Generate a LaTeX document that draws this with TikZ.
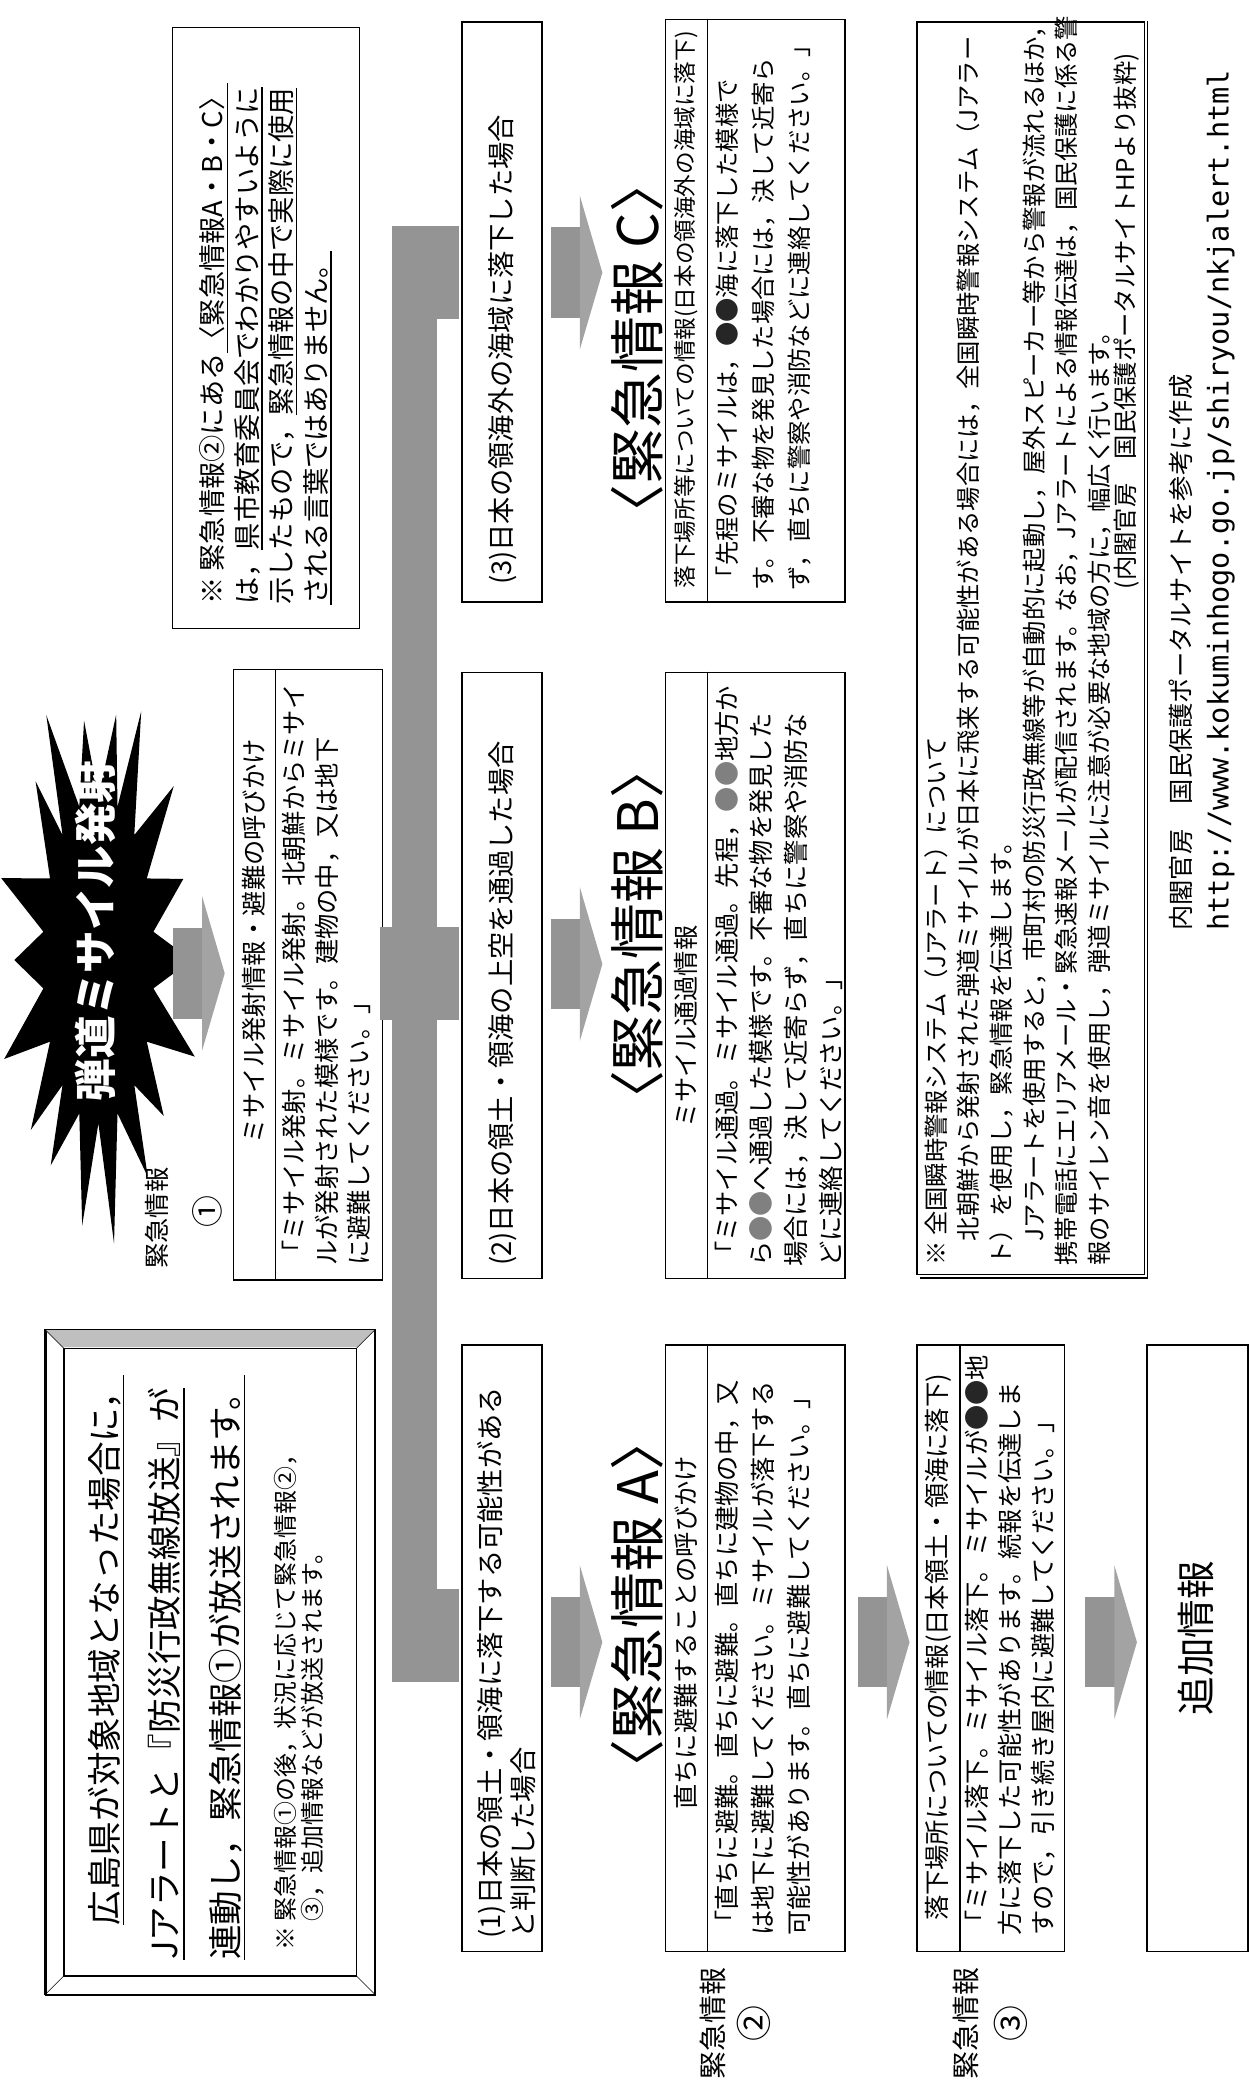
\documentclass[tikz,border=0pt]{standalone}
\usepackage{fontspec}
\setmainfont{Noto Sans CJK JP}
\newfontfamily\urlfnt{DejaVu Sans Mono}
\newcommand\ulx[1]{\leavevmode\setbox0\hbox{#1}\rlap{\rule[-0.2em]{\wd0}{1.1pt}}\box0}
\newcommand\gdot{\textcolor{black!50}{●}}
\newcommand\kdot{\textcolor{black!85}{●}}
\begin{document}
\begin{tikzpicture}[x=1pt,y=1pt,
  bx/.style={draw=black,line width=1.1pt,inner sep=0pt,anchor=north west},
  tb/.style={rotate=90,inner sep=0pt,align=left,anchor=north west},
  tc/.style={rotate=90,inner sep=0pt},
  grfill/.style={fill=black!42},
  pics/barrow/.style={code={
    \fill[black!42] (0,-34) rectangle (23,34);
    \fill[black!36] (22,-58) -- (39,0) -- (22,58) -- cycle;}}]
\useasboundingbox (0,0) rectangle (939,-1568);
\fill[white] (0,0) rectangle (939,-1568);

% ---------- note box (top left)
\node[bx,minimum width=141pt,minimum height=452pt] (nbox) at (129,-20) {};
\node[tb,font=\fontsize{20.5}{26}\selectfont] (nboxt) at (150,-455)
 {※ 緊急情報②にある\ulx{〈緊急情報A・B・C〉}\\は，\ulx{県市教育委員会でわかりやすいように}\\示したもので，\ulx{緊急情報の中で実際に使用}\\\ulx{される言葉ではありません。}};

% ---------- starburst
\fill[black] plot[samples at={0,...,35},variable=\k]
  ({74+(mod(\k,2)==0?(1+0.12*sin(\k*97)):0.6)*70*cos(\k*10)},{-722+(mod(\k,2)==0?(1+0.1*sin(\k*131)):0.62)*198*sin(\k*10)}) -- cycle;
\node[tc,text=white,font=\bfseries\fontsize{32}{32}\selectfont] (burst) at (72,-700) {弾道ミサイル発射};
\pic at (130,-732) {barrow};

% ---------- label 1
\node[tc,font=\fontsize{19}{19}\selectfont] (l1a) at (118,-916) {緊急情報};
\node[tc,font=\fontsize{24}{24}\selectfont] (l1b) at (156,-911) {①};

% ---------- box 1
\node[bx,minimum width=112pt,minimum height=459pt] (box1) at (175,-503) {};
\draw[line width=1pt] (207,-503) -- (207,-962);
\node[tc,font=\fontsize{19}{19}\selectfont] (box1h) at (191,-708) {ミサイル発射情報・避難の呼びかけ};
\node[tb,font=\fontsize{19}{24.5}\selectfont] (box1t) at (212,-952)
 {「ミサイル発射。ミサイル発射。北朝鮮からミサイ\\ルが発射された模様です。建物の中，又は地下\\に避難してください。」};

% ---------- big bevel box
\node[bx,minimum width=248pt,minimum height=500pt] (bigbox) at (34,-1000) {};
\fill[black!25] (34,-1000) -- (282,-1000) -- (269,-1013) -- (47,-1013) -- cycle;
\draw[line width=1.1pt] (34,-1000) rectangle (282,-1500);
\draw[line width=1.1pt] (48,-1014) rectangle (268,-1486);
\draw (34,-1000) -- (48,-1014) (282,-1000) -- (268,-1014) (34,-1500) -- (48,-1486) (282,-1500) -- (268,-1486);
\node[tb,font=\fontsize{26}{45.5}\selectfont] (bigt) at (66,-1474)
 {\hspace*{1em}\ulx{広島県が対象地域となった場合に，}\\\ulx{Jアラートと『防災行政無線放送』が}\\\ulx{連動し，緊急情報①が放送されます。}};
\node[tb,font=\fontsize{18}{20}\selectfont] (bign) at (206,-1467)
 {※ 緊急情報①の後，状況に応じて緊急情報②，\\\phantom{※ }③，追加情報などが放送されます。};

% ---------- gray distribution bar
\fill[grfill] (295,-170) rectangle (329,-1265);
\fill[grfill] (328,-170) rectangle (345,-240);
\fill[grfill] (286,-697) rectangle (345,-767);
\fill[grfill] (328,-1195) rectangle (345,-1265);

% ---------- condition boxes
\node[bx,minimum width=60pt,minimum height=436pt] (c3) at (347,-16) {};
\node[bx,minimum width=60pt,minimum height=456pt] (c2) at (347,-505) {};
\node[bx,minimum width=60pt,minimum height=456pt] (c1) at (347,-1011) {};
\node[tc,anchor=west,font=\fontsize{20.5}{24}\selectfont] (c3t) at (378,-440) {(3)日本の領海外の海域に落下した場合};
\node[tc,anchor=west,font=\fontsize{20.5}{24}\selectfont] (c2t) at (378,-952) {(2)日本の領土・領海の上空を通過した場合};
\node[tb,font=\fontsize{20.5}{25}\selectfont] (c1t) at (359,-1458) {(1)日本の領土・領海に落下する可能性がある\\と判断した場合};

% ---------- arrows to headings
\pic at (414,-205) {barrow};
\pic at (414,-725) {barrow};
\pic at (414,-1235) {barrow};

% ---------- headings
\node[tc,font=\fontsize{42}{42}\selectfont] (hdC) at (479,-262) {〈緊急情報 C〉};
\node[tc,font=\fontsize{42}{42}\selectfont] (hdB) at (479,-703) {〈緊急情報 B〉};
\node[tc,font=\fontsize{42}{42}\selectfont] (hdA) at (479,-1207) {〈緊急情報 A〉};

% ---------- box C
\node[bx,minimum width=135pt,minimum height=438pt] (bxC) at (500,-14) {};
\draw[line width=1pt] (532,-14) -- (532,-452);
\node[tc,font=\fontsize{17}{17}\selectfont] (bxCh) at (516,-233) {落下場所等についての情報(日本の領海外の海域に落下)};
\node[tb,font=\fontsize{18.3}{27}\selectfont] (bxCt) at (538,-444)
 {「先程のミサイルは，\kdot\kdot 海に落下した模様で\\す。不審な物を発見した場合には，決して近寄ら\\ず，直ちに警察や消防などに連絡してください。」};

% ---------- box B
\node[bx,minimum width=135pt,minimum height=456pt] (bxB) at (500,-505) {};
\draw[line width=1pt] (532,-505) -- (532,-961);
\node[tc,font=\fontsize{19}{19}\selectfont] (bxBh) at (516,-772) {ミサイル通過情報};
\node[tb,font=\fontsize{19}{26}\selectfont] (bxBt) at (537.5,-953)
 {「ミサイル通過。ミサイル通過。先程，\gdot\gdot 地方か\\ら\gdot\gdot へ通過した模様です。不審な物を発見した\\場合には，決して近寄らず，直ちに警察や消防な\\どに連絡してください。」};

% ---------- box A
\node[bx,minimum width=135pt,minimum height=456pt] (bxA) at (500,-1011) {};
\draw[line width=1pt] (532,-1011) -- (532,-1467);
\node[tc,font=\fontsize{19}{19}\selectfont] (bxAh) at (516,-1228) {直ちに避難することの呼びかけ};
\node[tb,font=\fontsize{19}{27}\selectfont] (bxAt) at (537.5,-1456)
 {「直ちに避難。直ちに避難。直ちに建物の中，又\\は地下に避難してください。ミサイルが落下する\\可能性があります。直ちに避難してください。」};
\node[tc,font=\fontsize{21}{21}\selectfont] (l2a) at (536,-1522) {緊急情報};
\node[tc,font=\fontsize{27}{27}\selectfont] (l2b) at (567,-1522) {②};

% ---------- box 3
\pic at (645,-1235) {barrow};
\node[bx,minimum width=111pt,minimum height=456pt] (bx3) at (689,-1011) {};
\draw[line width=1pt] (722,-1011) -- (722,-1467);
\node[tc,font=\fontsize{19}{19}\selectfont] (bx3h) at (706,-1239) {落下場所についての情報(日本領土・領海に落下)};
\node[tb,font=\fontsize{19}{25}\selectfont] (bx3t) at (725.5,-1456)
 {「ミサイル落下。ミサイル落下。ミサイルが\kdot\kdot 地\\方に落下した可能性があります。続報を伝達しま\\すので，引き続き屋内に避難してください。」};
\node[tc,font=\fontsize{21}{21}\selectfont] (l3a) at (726,-1522) {緊急情報};
\node[tc,font=\fontsize{27}{27}\selectfont] (l3b) at (760,-1522) {③};

% ---------- J-alert note
\node[bx,minimum width=171pt,minimum height=942pt] (jal) at (689,-16) {};
\draw[line width=1.1pt] (863,-16) -- (863,-961) -- (692,-961);
\node[tb,font=\fontsize{18.3}{24.5}\selectfont] (jalt) at (695,-952)
 {※ 全国瞬時警報システム（Jアラート）について\\　北朝鮮から発射された弾道ミサイルが日本に飛来する可能性がある場合には，全国瞬時警報システム（Jアラー\\ト）を使用し，緊急情報を伝達します。\\　Jアラートを使用すると，市町村の防災行政無線等が自動的に起動し，屋外スピーカー等から警報が流れるほか，\\携帯電話にエリアメール・緊急速報メールが配信されます。なお，Jアラートによる情報伝達は，国民保護に係る警\\報のサイレン音を使用し，弾道ミサイルに注意が必要な地域の方に，幅広く行います。};
\node[tc,anchor=east,font=\fontsize{18.3}{19.5}\selectfont] (jal7) at (847,-40) {(内閣官房　国民保護ポータルサイトHPより抜粋)};

% ---------- additional info
\pic at (816,-1235) {barrow};
\node[bx,minimum width=76pt,minimum height=456pt] (addb) at (862,-1011) {};
\node[tc,font=\fontsize{29}{29}\selectfont] (addt) at (899,-1232) {追加情報};

% ---------- footer
\node[tc,anchor=west,font=\fontsize{19}{19}\selectfont] (ft1) at (888,-700) {内閣官房　国民保護ポータルサイトを参考に作成};
\node[tc,anchor=west,font=\urlfnt\fontsize{21.5}{21.5}\selectfont] (ft2) at (918,-700) {http://www.kokuminhogo.go.jp/shiryou/nkjalert.html};
\end{tikzpicture}
\end{document}
